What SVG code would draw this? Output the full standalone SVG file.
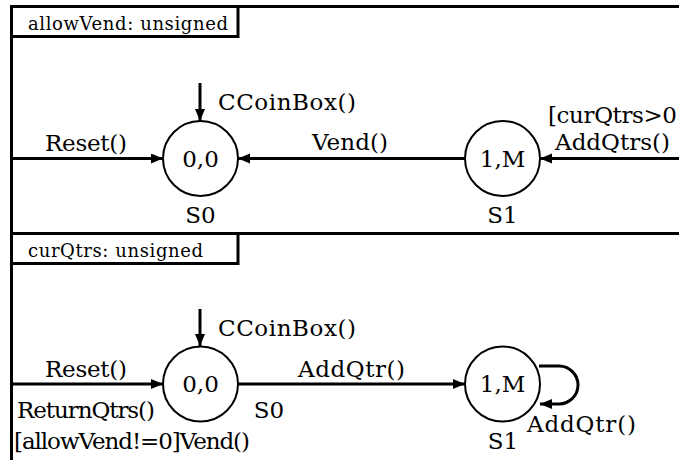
<svg xmlns="http://www.w3.org/2000/svg" width="679" height="460" viewBox="0 0 679 460">
<style>
text{font-family:"DejaVu Serif","Liberation Serif",serif;fill:#000}
.l{font-size:23px}
.s{font-size:18px}
.m{text-anchor:middle}
.frame{fill:none;stroke:#000;stroke-width:3}
.st{fill:#fff;stroke:#000;stroke-width:2}
.c{fill:none;stroke:#000;stroke-width:3}
</style>
<defs>
<marker id="ah" markerUnits="userSpaceOnUse" markerWidth="13" markerHeight="11" refX="12" refY="5" orient="auto">
<path d="M0,0 L12,5 L0,10 Z" fill="#000"/>
</marker>
</defs>
<rect width="679" height="460" fill="#fff"/>
<g id="frame">
<line class="frame" x1="10" y1="6.5" x2="679" y2="6.5"/>
<line class="frame" x1="11.5" y1="5" x2="11.5" y2="460"/>
<line class="frame" x1="10" y1="233.5" x2="679" y2="233.5"/>
<rect class="frame" x="11.5" y="6.5" width="226.5" height="30"/>
<rect class="frame" x="11.5" y="233.5" width="226.5" height="30"/>
<text class="s" x="28" y="30" textLength="200">allowVend: unsigned</text>
<text class="s" x="28" y="257" textLength="175">curQtrs: unsigned</text>
</g>
<g id="connectors">
<line class="c" x1="11" y1="158.5" x2="163" y2="158.5" marker-end="url(#ah)"/>
<line class="c" x1="200" y1="83" x2="200" y2="121" marker-end="url(#ah)"/>
<line class="c" x1="465" y1="158.5" x2="238" y2="158.5" marker-end="url(#ah)"/>
<line class="c" x1="679" y1="158.5" x2="540" y2="158.5" marker-end="url(#ah)"/>
<line class="c" x1="11" y1="384" x2="163" y2="384" marker-end="url(#ah)"/>
<line class="c" x1="200" y1="309" x2="200" y2="346" marker-end="url(#ah)"/>
<line class="c" x1="238" y1="384" x2="465" y2="384" marker-end="url(#ah)"/>
<path class="c" d="M539,366 L559,366 A19,19 0 0 1 559,404 L540,404" marker-end="url(#ah)"/>
<text class="l" x="218" y="110" textLength="138">CCoinBox()</text>
<text class="l" x="45" y="151" textLength="82">Reset()</text>
<text class="l" x="312" y="150" textLength="76">Vend()</text>
<text class="l" x="548" y="123" textLength="129">[curQtrs&gt;0</text>
<text class="l" x="555" y="150" textLength="115">AddQtrs()</text>
<text class="l" x="218" y="336" textLength="138">CCoinBox()</text>
<text class="l" x="45" y="377" textLength="82">Reset()</text>
<text class="l" x="17" y="418" textLength="138">ReturnQtrs()</text>
<text class="l" x="14" y="449" textLength="236">[allowVend!=0]Vend()</text>
<text class="l" x="298" y="377" textLength="107">AddQtr()</text>
<text class="l" x="527" y="432" textLength="109">AddQtr()</text>
</g>
<g id="s0-top">
<circle class="st" cx="200.5" cy="158.5" r="37.5"/>
<text class="l m" x="200.5" y="167">0,0</text>
<text class="l m" x="200.5" y="223">S0</text>
</g>
<g id="s1-top">
<circle class="st" cx="502.5" cy="158.5" r="37.5"/>
<text class="l m" x="502.5" y="167">1,M</text>
<text class="l m" x="502.5" y="223">S1</text>
</g>
<g id="s0-bottom">
<circle class="st" cx="200.5" cy="384" r="37.5"/>
<text class="l m" x="200.5" y="392">0,0</text>
<text class="l m" x="269" y="418">S0</text>
</g>
<g id="s1-bottom">
<circle class="st" cx="502.5" cy="384" r="37.5"/>
<text class="l m" x="502.5" y="392">1,M</text>
<text class="l m" x="503" y="449">S1</text>
</g>
</svg>
